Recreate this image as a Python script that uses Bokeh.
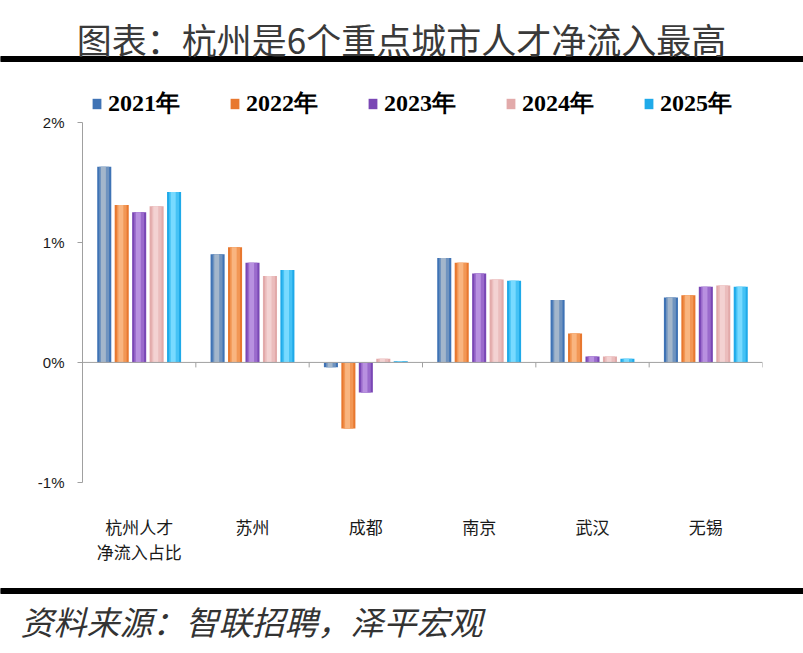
from bokeh.plotting import figure
from bokeh.models import (Range1d, FactorRange, FixedTicker, Span, Legend,
                          LegendItem, ColumnDataSource, Label, Column)
from bokeh.transform import dodge
from bokeh.embed import file_html
from bokeh.resources import INLINE

# ---------------- data ----------------
title_text = "图表：杭州是6个重点城市人才净流入最高"
source_text = "资料来源：智联招聘，泽平宏观"
cities = ["杭州人才\n净流入占比", "苏州", "成都", "南京", "武汉", "无锡"]
years = ["2021年", "2022年", "2023年", "2024年", "2025年"]
v2021 = [1.63, 0.90, -0.04, 0.87, 0.52, 0.54]
v2022 = [1.31, 0.96, -0.55, 0.83, 0.24, 0.56]
v2023 = [1.25, 0.83, -0.25, 0.74, 0.05, 0.63]
v2024 = [1.30, 0.72, 0.03, 0.69, 0.05, 0.64]
v2025 = [1.42, 0.77, 0.01, 0.68, 0.03, 0.63]
y_ticks = [-1, 0, 1, 2]
y_tick_labels = ["-1%", "0%", "1%", "2%"]

series = [v2021, v2022, v2023, v2024, v2025]
edge_colors = ["#3F73B5", "#E8782F", "#7A47B5", "#E2AAAA", "#1FAAE9"]
mid_colors = ["#6F93BF", "#F29755", "#9A6ACC", "#EBBDBD", "#45C2F5"]
light_colors = ["#A3B6CB", "#F9B580", "#B890E0", "#F3D2D2", "#78DAFF"]

W = 803
FONT_CJK = "Noto Sans CJK SC"

# ---------------- title strip ----------------
TH = 70
pt = figure(width=W, height=TH, x_range=Range1d(0, W), y_range=Range1d(TH, 0),
            toolbar_location=None, output_backend="svg", min_border=0,
            x_axis_type=None, y_axis_type=None)
pt.outline_line_color = None
pt.add_layout(Label(x=401, y=38, text=title_text, text_font=FONT_CJK,
                    text_font_size="35px", text_align="center",
                    text_baseline="middle", text_color="#3a3a3a"))
pt.quad(left=[0], right=[W], top=[56], bottom=[61], color="black")

# ---------------- chart ----------------
src = ColumnDataSource(dict(city=cities, **{y: s for y, s in zip(years, series)}))

PX_PER_UNIT = 120.0
p = figure(width=W, height=515, x_range=FactorRange(*cities, range_padding=0),
           y_range=Range1d(-1, 2.431), toolbar_location=None,
           output_backend="svg", min_border_left=82, min_border_right=41,
           min_border_top=0, min_border_bottom=103)
p.outline_line_color = None
p.xgrid.visible = False
p.ygrid.visible = False

pitch = 0.154
bw = 0.124
legend_items = []
for i, yr in enumerate(years):
    off = (i - 2) * pitch
    r = p.vbar(x=dodge("city", off, range=p.x_range), top=yr, bottom=0, width=bw,
               source=src, fill_color=edge_colors[i], line_color=None)
    p.vbar(x=dodge("city", off, range=p.x_range), top=yr, bottom=0, width=bw * 0.7,
           source=src, fill_color=mid_colors[i], line_color=None)
    p.vbar(x=dodge("city", off - bw * 0.06, range=p.x_range), top=yr, bottom=0,
           width=bw * 0.35, source=src, fill_color=light_colors[i], line_color=None)
    legend_items.append(LegendItem(label=yr, renderers=[r]))

AXIS_GRAY = "#A0A0A0"
p.add_layout(Span(location=0, dimension="width", line_color=AXIS_GRAY, line_width=1))

# category boundary ticks on the zero line
tick_len = 5 / PX_PER_UNIT
bsrc = ColumnDataSource(dict(city=cities))
p.segment(x0=dodge("city", -0.5, range=p.x_range), x1=dodge("city", -0.5, range=p.x_range),
          y0=0, y1=-tick_len, source=bsrc, line_color=AXIS_GRAY, line_width=1)
esrc = ColumnDataSource(dict(city=cities[-1:]))
p.segment(x0=dodge("city", 0.5, range=p.x_range), x1=dodge("city", 0.5, range=p.x_range),
          y0=0, y1=-tick_len, source=esrc, line_color=AXIS_GRAY, line_width=1)

# y axis
ya = p.yaxis[0]
ya.ticker = FixedTicker(ticks=y_ticks)
ya.major_label_overrides = {t: l for t, l in zip(y_ticks, y_tick_labels)}
ya.bounds = (-1, 2)
ya.axis_line_color = AXIS_GRAY
ya.major_tick_line_color = AXIS_GRAY
ya.major_tick_out = 5
ya.major_tick_in = 0
ya.minor_tick_line_color = None
ya.major_label_standoff = 13
ya.major_label_text_font = "Liberation Sans"
ya.major_label_text_font_size = "15px"
ya.major_label_text_color = "#1a1a1a"

# x axis (labels only)
xa = p.xaxis[0]
xa.axis_line_color = None
xa.major_tick_line_color = None
xa.minor_tick_line_color = None
xa.major_tick_out = 0
xa.major_tick_in = 0
xa.major_label_standoff = 31
xa.major_label_text_font = FONT_CJK
xa.major_label_text_font_size = "17px"
xa.major_label_text_color = "#1a1a1a"
xa.major_label_text_line_height = 1.0

legend = Legend(items=legend_items, orientation="horizontal", location=(9, 363),
                glyph_width=11, glyph_height=13, label_standoff=6, label_width=95,
                spacing=26, padding=0, margin=0, border_line_color=None,
                background_fill_alpha=0,
                label_text_font="Liberation Serif",
                label_text_font_style="bold", label_text_font_size="24px",
                label_text_color="black")
p.add_layout(legend)

# ---------------- source strip ----------------
SH = 68
ps = figure(width=W, height=SH, x_range=Range1d(0, W), y_range=Range1d(SH, 0),
            toolbar_location=None, output_backend="svg", min_border=0,
            x_axis_type=None, y_axis_type=None)
ps.outline_line_color = None
ps.quad(left=[0], right=[W], top=[3], bottom=[8], color="black")
ps.add_layout(Label(x=20, y=35, text=source_text, text_font=FONT_CJK,
                    text_font_size="33px", text_font_style="italic",
                    text_align="left", text_baseline="middle", text_color="#333333"))

layout = Column(children=[Column(children=[pt]), Column(children=[p]),
                          Column(children=[ps])], spacing=0)
open("out.html", "w").write(file_html(layout, INLINE))
